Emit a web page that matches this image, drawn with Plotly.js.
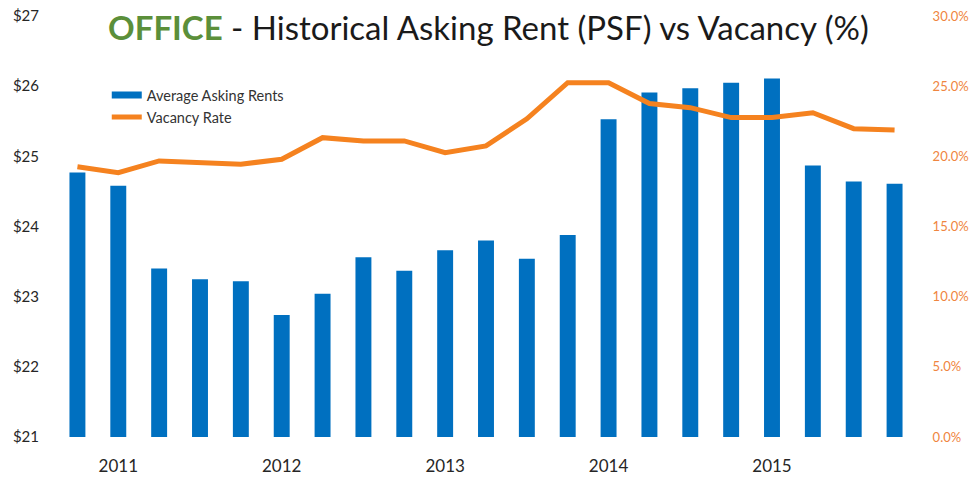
<!DOCTYPE html>
<html>
<head>
<meta charset="utf-8">
<script src="https://cdn.plot.ly/plotly-3.0.1.min.js"></script>
<style>html,body{margin:0;padding:0;background:#fff}#chart{width:971px;height:477px}</style>
</head>
<body>
<div id="chart"></div>
<script>
const quarters = ["2010 Q4",
  "2011 Q1","2011 Q2","2011 Q3","2011 Q4",
  "2012 Q1","2012 Q2","2012 Q3","2012 Q4",
  "2013 Q1","2013 Q2","2013 Q3","2013 Q4",
  "2014 Q1","2014 Q2","2014 Q3","2014 Q4",
  "2015 Q1","2015 Q2","2015 Q3","2015 Q4"];
const askingRent = [24.77, 24.58, 23.40, 23.25, 23.22, 22.74, 23.04, 23.56, 23.37, 23.66, 23.80,
  23.54, 23.88, 25.53, 25.91, 25.97, 26.05, 26.11, 24.87, 24.64, 24.61];
const vacancyRate = [19.26, 18.84, 19.67, 19.60, 19.44, 19.79, 21.33, 21.10, 21.10, 20.26, 20.74,
  22.67, 25.25, 25.25, 23.76, 23.47, 22.76, 22.76, 23.11, 21.97, 21.88];
const yearTickVals = ["2011 Q1","2012 Q1","2013 Q1","2014 Q1","2015 Q1"];
const yearTickText = ["2011","2012","2013","2014","2015"];
const rentTicks = [21,22,23,24,25,26,27];
const rentTickText = ["$21","$22","$23","$24","$25","$26","$27"];
const vacTicks = [0,5,10,15,20,25,30];
const vacTickText = ["0.0%","5.0%","10.0%","15.0%","20.0%","25.0%","30.0%"];

const FONT = "Lato, 'Open Sans', sans-serif";
const BLUE = "#0070C0";
const ORANGE = "#F5821F";

const traces = [
  {type:"bar", name:"Average Asking Rents", x:quarters, y:askingRent,
   marker:{color:BLUE}, yaxis:"y", showlegend:false},
  // legend key only (wide blue strip like the original legend)
  {type:"scatter", mode:"lines", name:"Average Asking Rents", x:[null], y:[null],
   line:{color:BLUE, width:7}, yaxis:"y", showlegend:true, hoverinfo:"skip"},
  {type:"scatter", mode:"lines", name:"Vacancy Rate", x:quarters, y:vacancyRate,
   line:{color:ORANGE, width:5}, yaxis:"y2"}
];

const layout = {
  width:971, height:477,
  margin:{l:57, r:56, t:16, b:40, pad:0},
  paper_bgcolor:"#fff", plot_bgcolor:"#fff",
  font:{family:FONT, color:"#262626"},
  bargap:0.61,
  showlegend:true,
  legend:{x:0.058, y:0.85, xanchor:"left", yanchor:"top", bgcolor:"rgba(0,0,0,0)",
    font:{size:14.5, color:"#333", family:FONT}, tracegroupgap:0, itemwidth:30},
  title:{text:"<b><span style='color:#5B8F3A'>OFFICE</span></b> - Historical Asking Rent (PSF) vs Vacancy (%)",
    x:0.503, xanchor:"center", y:0.94, yanchor:"middle", yref:"container",
    font:{size:33, color:"#1a1a1a", family:FONT}},
  xaxis:{type:"category", categoryorder:"array", categoryarray:quarters,
    range:[-0.5, 20.5], tickmode:"array", tickvals:yearTickVals, ticktext:yearTickText,
    showgrid:false, showline:false, zeroline:false,
    ticks:"outside", ticklen:14, tickcolor:"rgba(0,0,0,0)",
    tickfont:{size:17, color:"#262626", family:FONT}},
  yaxis:{range:[21,27], tickmode:"array", tickvals:rentTicks, ticktext:rentTickText,
    showgrid:false, showline:false, zeroline:false,
    ticks:"outside", ticklen:14, tickcolor:"rgba(0,0,0,0)",
    tickfont:{size:15, color:"#262626", family:FONT}},
  yaxis2:{range:[0,30], overlaying:"y", side:"right", tickmode:"array", tickvals:vacTicks, ticktext:vacTickText,
    showgrid:false, showline:false, zeroline:false,
    ticks:"outside", ticklen:14, tickcolor:"rgba(0,0,0,0)",
    tickfont:{size:13, color:"#EF8540", family:FONT}}
};

Plotly.newPlot("chart", traces, layout, {displayModeBar:false, staticPlot:true});
</script>
</body>
</html>
